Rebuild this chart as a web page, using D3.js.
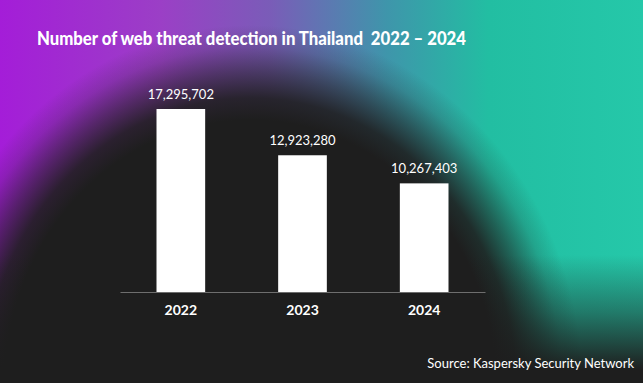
<!DOCTYPE html>
<html>
<head>
<meta charset="utf-8">
<script src="https://cdn.jsdelivr.net/npm/d3@7"></script>
<style>
  html, body { margin: 0; padding: 0; background: #1e1e1e; }
  svg { display: block; }
</style>
</head>
<body>
<svg id="chart" width="643" height="383"></svg>
<script>
var years = ["2022", "2023", "2024"];
var detections = [17295702, 12923280, 10267403];
var title = "Number of web threat detection in Thailand  2022 \u2013 2024";
var source = "Source: Kaspersky Security Network";

var svg = d3.select("#chart"),
    width = +svg.attr("width"),
    height = +svg.attr("height"),
    margin = {top: 109, right: 158, bottom: 91, left: 120},
    innerW = width - margin.left - margin.right,
    innerH = height - margin.top - margin.bottom;

var defs = svg.append("defs");
var dark = "#1e1e1e";

// background: horizontal purple -> teal wash
var grad = defs.append("linearGradient").attr("id", "wash")
    .attr("x1", "0").attr("x2", "1").attr("y1", "0").attr("y2", "0");
[["0", "#a41dd8"], ["0.25", "#9b3fc6"], ["0.42", "#7a5cb8"], ["0.6", "#3f95ab"], ["0.76", "#22bea2"], ["1", "#25c8a9"]]
    .forEach(function(s) { grad.append("stop").attr("offset", s[0]).attr("stop-color", s[1]); });

// dark blob rising from the bottom, a bit left of centre
var blob = defs.append("radialGradient").attr("id", "blob")
    .attr("gradientUnits", "userSpaceOnUse")
    .attr("cx", 0).attr("cy", 0).attr("r", 1)
    .attr("gradientTransform", "translate(250,390) scale(333,365)");
[["0", 1], ["0.74", 1], ["0.8", 0.9], ["0.87", 0.55], ["0.94", 0.18], ["1", 0]]
    .forEach(function(s) {
        blob.append("stop").attr("offset", s[0]).attr("stop-color", dark).attr("stop-opacity", s[1]);
    });

// dark floor
var floor = defs.append("linearGradient").attr("id", "floor")
    .attr("gradientUnits", "userSpaceOnUse")
    .attr("x1", 0).attr("y1", 255).attr("x2", 0).attr("y2", 370);
floor.append("stop").attr("offset", "0").attr("stop-color", dark).attr("stop-opacity", 0);
floor.append("stop").attr("offset", "0.5").attr("stop-color", dark).attr("stop-opacity", 0.45);
floor.append("stop").attr("offset", "1").attr("stop-color", dark).attr("stop-opacity", 1);

svg.append("rect").attr("width", width).attr("height", height).attr("fill", "url(#wash)");
svg.append("rect").attr("width", width).attr("height", height).attr("fill", "url(#blob)");
svg.append("rect").attr("width", width).attr("height", height).attr("fill", "url(#floor)");

var g = svg.append("g").attr("transform", "translate(" + margin.left + "," + margin.top + ")");

var x = d3.scaleBand()
    .domain(years)
    .range([0, innerW])
    .paddingInner(0.6)
    .paddingOuter(0.3);

var y = d3.scaleLinear()
    .domain([0, d3.max(detections)])
    .range([innerH, 0]);

var data = years.map(function(yr, i) { return {year: yr, value: detections[i]}; });

g.selectAll(".bar")
    .data(data)
    .enter().append("rect")
    .attr("class", "bar")
    .attr("x", function(d) { return x(d.year); })
    .attr("y", function(d) { return y(d.value); })
    .attr("width", x.bandwidth())
    .attr("height", function(d) { return innerH - y(d.value); })
    .attr("fill", "#ffffff");

g.selectAll(".val")
    .data(data)
    .enter().append("text")
    .attr("class", "val")
    .attr("x", function(d) { return x(d.year) + x.bandwidth() / 2; })
    .attr("y", function(d) { return y(d.value) - 10; })
    .attr("text-anchor", "middle")
    .attr("fill", "#ffffff")
    .style("font-family", "Lato, sans-serif")
    .style("font-size", "13px")
    .text(function(d) { return d3.format(",")(d.value); });

var xAxis = d3.axisBottom(x).tickSize(0).tickPadding(13);

var ax = g.append("g")
    .attr("transform", "translate(0," + innerH + ")")
    .call(xAxis);
ax.select(".domain").attr("stroke", "#6e6e6e").attr("stroke-width", 1);
ax.selectAll("text")
    .attr("fill", "#ffffff")
    .style("font-family", "Lato, sans-serif")
    .style("font-weight", "700")
    .style("font-size", "14px");

svg.append("text")
    .attr("x", 37)
    .attr("y", 45)
    .attr("fill", "#ffffff")
    .attr("textLength", 429)
    .attr("lengthAdjust", "spacingAndGlyphs")
    .style("font-family", "Lato, sans-serif")
    .style("font-weight", "900")
    .style("font-size", "18.5px")
    .style("white-space", "pre")
    .text(title);

svg.append("text")
    .attr("x", 634)
    .attr("y", 368)
    .attr("text-anchor", "end")
    .attr("fill", "#ffffff")
    .style("font-family", "Lato, sans-serif")
    .style("font-size", "13px")
    .text(source);
</script>
</body>
</html>
